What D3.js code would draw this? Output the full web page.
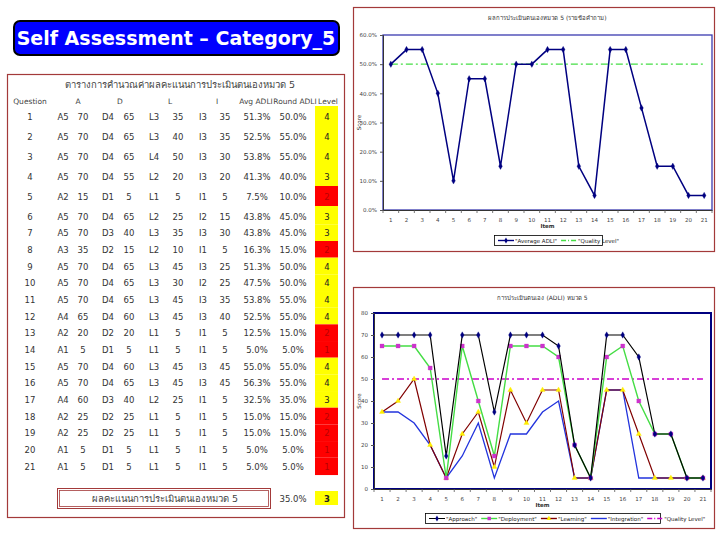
<!DOCTYPE html>
<html><head><meta charset="utf-8">
<script src="https://cdn.jsdelivr.net/npm/d3@7"></script>
<style>
body{margin:0;background:#fff}
svg{display:block}
text{font-family:Tahoma,"DejaVu Sans","Noto Sans",sans-serif}
</style>
</head><body>
<svg id="c" width="720" height="540"></svg>
<script>
// ---------- DATA ----------
const questions = ["1","2","3","4","5","6","7","8","9","10","11","12","13","14","15","16","17","18","19","20","21"];
const aLevel = [5,5,5,5,2,5,5,3,5,5,5,4,2,1,5,5,4,2,2,1,1];
const aScore = [70,70,70,70,15,70,70,35,70,70,70,65,20,5,70,70,60,25,25,5,5];
const dLevel = [4,4,4,4,1,4,3,2,4,4,4,4,2,1,4,4,3,2,2,1,1];
const dScore = [65,65,65,55,5,65,40,15,65,65,65,60,20,5,60,65,40,25,25,5,5];
const lLevel = [3,3,4,2,1,2,3,2,3,3,3,3,1,1,3,3,2,1,1,1,1];
const lScore = [35,40,50,20,5,25,35,10,45,30,45,45,5,5,45,45,25,5,5,5,5];
const iLevel = [3,3,3,3,1,2,3,1,3,2,3,3,1,1,3,3,1,1,1,1,1];
const iScore = [35,35,30,20,5,15,30,5,25,25,35,40,5,5,45,45,5,5,5,5,5];
const avgADLI = [51.3,52.5,53.8,41.3,7.5,43.8,43.8,16.3,51.3,47.5,53.8,52.5,12.5,5.0,55.0,56.3,32.5,15.0,15.0,5.0,5.0];
const roundADLI = [50,55,55,40,10,45,45,15,50,50,55,55,15,5,55,55,35,15,15,5,5];
const levels = [4,4,4,3,2,3,3,2,4,4,4,4,2,1,4,4,3,2,2,1,1];
const qualityLevelPct = 50;
const qualityLevelScore = 50;
const summaryPct = 35.0;
const summaryLevel = 3;
const yTicksTop = [0,10,20,30,40,50,60];
const yTicksBottom = [0,10,20,30,40,50,60,70,80];
const pageTitle = "Self Assessment \u2013 Category_5";
const tableTitle = "ตารางการคำนวณค่าผลคะแนนการประเมินตนเองหมวด 5";
const tableHeaders = ["Question","A","D","L","I","Avg ADLI","Round ADLI","Level"];
const summaryLabel = "ผลคะแนนการประเมินตนเองหมวด 5";
const topTitle = "ผลการประเมินตนเองหมวด 5 (รายข้อคำถาม)";
const bottomTitle = "การประเมินตนเอง (ADLI) หมวด 5";

const svg = d3.select("#c");
const frameCol = "#a33a3a";

// ---------- Page title ----------
svg.append("rect").attr("x",14).attr("y",21).attr("width",325).attr("height",34)
  .attr("rx",6).attr("fill","#0000ff").attr("stroke","#000").attr("stroke-width",2);
svg.append("text").attr("x",176).attr("y",45).attr("text-anchor","middle")
  .attr("fill","#fff").attr("font-weight","bold").attr("font-size",19)
  .style("font-family","Verdana,'DejaVu Sans',sans-serif").text(pageTitle);

// ---------- Table ----------
svg.append("rect").attr("x",7.5).attr("y",74.5).attr("width",337).attr("height",443)
  .attr("fill","none").attr("stroke",frameCol).attr("stroke-width",1.2);
svg.append("text").attr("x",180).attr("y",88).attr("text-anchor","middle")
  .attr("font-size",9.5).attr("fill","#444").text(tableTitle);
const headX = [30,78,120,170,217,256,295,328];
svg.selectAll("text.hd").data(tableHeaders).join("text").attr("class","hd")
  .attr("x",(d,i)=>headX[i]).attr("y",104).attr("text-anchor","middle")
  .attr("font-size",7.5).attr("fill","#444").text(d=>d);

const rowY = i => i < 6 ? 116 + i*20 : 216 + (i-5)*16.67;
const colX = [30,63,83,108,129,154,178,203,225,257,293,327];
const rows = questions.map((q,i)=>({i,cells:[q,"A"+aLevel[i],aScore[i],"D"+dLevel[i],dScore[i],
  "L"+lLevel[i],lScore[i],"I"+iLevel[i],iScore[i],avgADLI[i].toFixed(1)+"%",roundADLI[i].toFixed(1)+"%"],level:levels[i]}));

// level cells background
const cellTop = i => i===0 ? rowY(0)-10 : (rowY(i-1)+rowY(i))/2;
const cellBot = i => i===questions.length-1 ? rowY(i)+9 : (rowY(i)+rowY(i+1))/2;
const lvlColor = l => l>=3 ? "#ffff00" : "#ff0000";
svg.selectAll("rect.lv").data(rows).join("rect").attr("class","lv")
  .attr("x",315).attr("width",23)
  .attr("y",d=>cellTop(d.i)).attr("height",d=>cellBot(d.i)-cellTop(d.i))
  .attr("fill",d=>lvlColor(d.level));
const rg = svg.selectAll("g.row").data(rows).join("g").attr("class","row")
  .attr("transform",d=>`translate(0,${rowY(d.i)+3.5})`);
rg.selectAll("text").data(d=>d.cells).join("text")
  .attr("x",(d,j)=>colX[j]).attr("text-anchor","middle").attr("font-size",8.5)
  .attr("fill","#333").text(d=>d);
rg.append("text").attr("x",327).attr("text-anchor","middle").attr("font-size",8.5)
  .attr("fill",d=>d.level>=3?"#222":"#b80000").text(d=>d.level);

// summary
svg.append("rect").attr("x",57.5).attr("y",488.5).attr("width",213).attr("height",20)
  .attr("fill","none").attr("stroke",frameCol).attr("stroke-width",1);
svg.append("rect").attr("x",59.5).attr("y",490.5).attr("width",209).attr("height",16)
  .attr("fill","none").attr("stroke",frameCol).attr("stroke-width",0.8);
svg.append("text").attr("x",165).attr("y",502).attr("text-anchor","middle")
  .attr("font-size",9.5).attr("fill","#444").text(summaryLabel);
svg.append("text").attr("x",293).attr("y",502).attr("text-anchor","middle")
  .attr("font-size",8.5).attr("fill","#333").text(summaryPct.toFixed(1)+"%");
svg.append("rect").attr("x",315).attr("y",491).attr("width",23).attr("height",14).attr("fill","#ffff00");
svg.append("text").attr("x",327).attr("y",502).attr("text-anchor","middle")
  .attr("font-size",8.5).attr("font-weight","bold").attr("fill","#222").text(summaryLevel);

// ---------- chart helper ----------
function chart(o){
  const g = svg.append("g");
  g.append("rect").attr("x",o.fx+0.5).attr("y",o.fy+0.5).attr("width",o.fw).attr("height",o.fh)
    .attr("fill","#fff").attr("stroke",frameCol).attr("stroke-width",1.2);
  const x = d3.scaleBand().domain(questions).range([o.x0,o.x1]);
  const y = d3.scaleLinear().domain(o.ydom).range([o.y1,o.y0]);
  g.append("rect").attr("x",o.x0).attr("y",o.y0).attr("width",o.x1-o.x0).attr("height",o.y1-o.y0)
    .attr("fill","#fff").attr("stroke",o.plotStroke).attr("stroke-width",o.plotSW);
  const ya = g.append("g").attr("transform",`translate(${o.x0},0)`)
    .call(d3.axisLeft(y).tickValues(o.yticks).tickSize(3).tickFormat(o.yfmt));
  ya.select(".domain").attr("stroke","#333");
  ya.selectAll("text").attr("font-size",5.5).attr("fill","#444");
  ya.selectAll("line").attr("stroke","#555");
  const xa = g.append("g").attr("transform",`translate(0,${o.y1})`)
    .call(d3.axisBottom(x).tickSize(0).tickPadding(8));
  xa.select(".domain").attr("stroke","#333");
  xa.selectAll("text").attr("font-size",5.5).attr("fill","#444");
  g.selectAll("line.xt").data(questions.concat(["end"])).join("line").attr("class","xt")
    .attr("x1",(d,i)=>o.x0+i*x.step()).attr("x2",(d,i)=>o.x0+i*x.step())
    .attr("y1",o.y1).attr("y2",o.y1+3).attr("stroke","#555").attr("stroke-width",0.8);
  g.append("text").attr("x",(o.x0+o.x1)/2).attr("y",o.fy+13).attr("text-anchor","middle")
    .attr("font-size",6).attr("fill","#333").text(o.title);
  g.append("text").attr("x",(o.x0+o.x1)/2).attr("y",o.y1+18).attr("text-anchor","middle")
    .attr("font-size",5.5).attr("font-weight","bold").attr("fill","#333").text("Item");
  g.append("text").attr("transform",`translate(${o.fx+8},${(o.y0+o.y1)/2}) rotate(-90)`)
    .attr("text-anchor","middle").attr("font-size",5.5).attr("fill","#333").text("Score");
  // quality level
  g.append("line").attr("x1",x(questions[0])+x.bandwidth()/2).attr("x2",x(questions[20])+x.bandwidth()/2)
    .attr("y1",y(o.q)).attr("y2",y(o.q)).attr("stroke",o.qColor).attr("stroke-width",1.4)
    .attr("stroke-dasharray","7,3,2,3");
  const cx = (d,i)=>x(questions[i])+x.bandwidth()/2;
  o.series.forEach(s=>{
    g.append("path").datum(s.values)
      .attr("d",d3.line().x(cx).y(d=>y(d)))
      .attr("fill","none").attr("stroke",s.color).attr("stroke-width",s.width);
    if(s.symbol){
      g.selectAll(null).data(s.values).join("path")
        .attr("transform",(d,i)=>`translate(${cx(d,i)},${y(d)})`)
        .attr("d",d3.symbol().type(s.symbol).size(s.size))
        .attr("fill",s.mcolor).attr("stroke",s.mcolor).attr("stroke-width",0.3);
    }
  });
  // legend
  const L = o.legend;
  g.append("rect").attr("x",L.x+0.5).attr("y",L.y+0.5).attr("width",L.w).attr("height",10)
    .attr("fill","#fff").attr("stroke","#000").attr("stroke-width",0.8);
  let lx = L.x+4;
  L.items.forEach(it=>{
    g.append("line").attr("x1",lx).attr("x2",lx+16).attr("y1",L.y+5.5).attr("y2",L.y+5.5)
      .attr("stroke",it.color).attr("stroke-width",it.width||1.4)
      .attr("stroke-dasharray",it.dash||null);
    if(it.symbol) g.append("path").attr("transform",`translate(${lx+8},${L.y+5.5})`)
      .attr("d",d3.symbol().type(it.symbol).size(it.size)).attr("fill",it.mcolor);
    const t = g.append("text").attr("x",lx+17).attr("y",L.y+7.5).attr("font-size",5.5)
      .attr("fill","#222").text(it.label);
    lx += 17 + t.node().getComputedTextLength() + 4;
  });
}

chart({fx:353,fy:7,fw:361,fh:244,x0:383,x1:712,y0:35,y1:210,ydom:[0,60],yticks:yTicksTop,
  yfmt:d=>d.toFixed(1)+"%",plotStroke:"#3b3bb0",plotSW:1.3,title:topTitle,
  q:qualityLevelPct,qColor:"#44dd44",
  series:[{values:roundADLI,color:"#000080",width:1.5,symbol:d3.symbolDiamond,size:12,mcolor:"#000080"}],
  legend:{x:494,y:235,w:108,items:[
    {label:"\"Average ADLI\"",color:"#000080",symbol:d3.symbolDiamond,size:10,mcolor:"#000080"},
    {label:"\"Quality Level\"",color:"#44dd44",dash:"5,2,1,2"}]}});

chart({fx:353,fy:287,fw:361,fh:241,x0:374,x1:711,y0:313,y1:489,ydom:[0,80],yticks:yTicksBottom,
  yfmt:d=>d,plotStroke:"#000080",plotSW:2,title:bottomTitle,
  q:qualityLevelScore,qColor:"#cc00cc",
  series:[
    {values:iScore,color:"#2233dd",width:1.3},
    {values:lScore,color:"#800000",width:1.2,symbol:d3.symbolTriangle,size:12,mcolor:"#ffee00"},
    {values:dScore,color:"#44dd44",width:1.4,symbol:d3.symbolSquare,size:16,mcolor:"#cc33cc"},
    {values:aScore,color:"#000000",width:1.2,symbol:d3.symbolDiamond,size:12,mcolor:"#000080"}],
  legend:{x:425,y:513,w:235,items:[
    {label:"\"Approach\"",color:"#000",symbol:d3.symbolDiamond,size:10,mcolor:"#000080",width:1},
    {label:"\"Deployment\"",color:"#44dd44",symbol:d3.symbolSquare,size:12,mcolor:"#cc33cc"},
    {label:"\"Learning\"",color:"#800000",symbol:d3.symbolTriangle,size:10,mcolor:"#ffee00"},
    {label:"\"Integration\"",color:"#2233dd"},
    {label:"\"Quality Level\"",color:"#cc00cc",dash:"5,2,1,2"}]}});
</script>
</body></html>
